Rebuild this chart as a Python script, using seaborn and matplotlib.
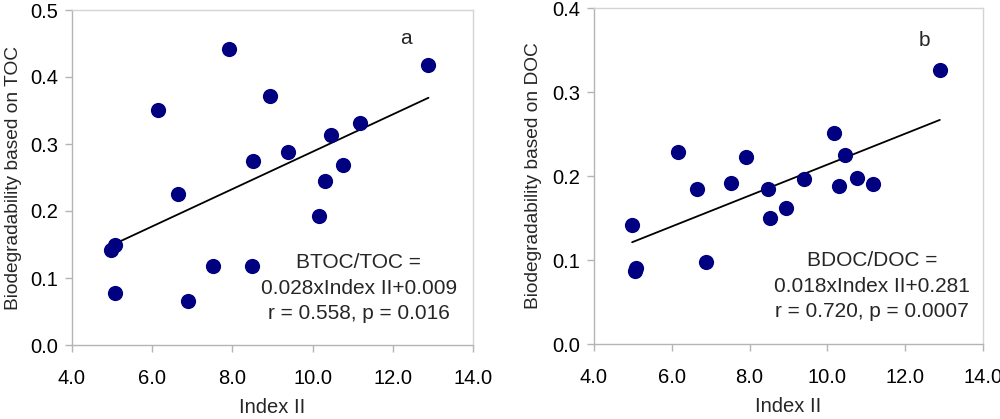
import numpy as np
import pandas as pd
import matplotlib
matplotlib.use("Agg")
import matplotlib.pyplot as plt
import seaborn as sns

# Data
index_ii = [4.98, 5.06, 5.08, 6.15, 6.64, 6.89, 7.51, 7.91, 8.48, 8.52,
            8.93, 9.39, 10.17, 10.31, 10.45, 10.77, 11.17, 12.89]
btoc_toc = [0.142, 0.077, 0.150, 0.350, 0.226, 0.066, 0.118, 0.442, 0.118, 0.274,
            0.372, 0.288, 0.193, 0.245, 0.314, 0.269, 0.331, 0.418]
bdoc_doc = [0.142, 0.087, 0.090, 0.228, 0.185, 0.098, 0.192, 0.223, 0.185, 0.150,
            0.162, 0.196, 0.251, 0.188, 0.225, 0.198, 0.190, 0.326]

x_ticks = [4.0, 6.0, 8.0, 10.0, 12.0, 14.0]
left_yticks = [0.0, 0.1, 0.2, 0.3, 0.4, 0.5]
right_yticks = [0.0, 0.1, 0.2, 0.3, 0.4]
left_ylabel = "Biodegradability based on TOC"
right_ylabel = "Biodegradability based on DOC"
xlabel = "Index II"
left_eq = "BTOC/TOC =\n0.028xIndex II+0.009\nr = 0.558, p = 0.016"
right_eq = "BDOC/DOC =\n0.018xIndex II+0.281\nr = 0.720, p = 0.0007"

sns.set_theme(style="white")
plt.rcParams['font.family'] = ['Liberation Sans', 'DejaVu Sans']

df = pd.DataFrame({"x": index_ii, "toc": btoc_toc, "doc": bdoc_doc})

fig = plt.figure(figsize=(10, 4.19), dpi=100)
W, H = 1000, 419
axL = fig.add_axes([72/W, 1-345/H, (473-72)/W, (345-10)/H])
axR = fig.add_axes([594/W, 1-344/H, (983-594)/W, (344-8)/H])

def style(ax, yticks, ylabel, ylab_x):
    ax.set_xlim(4.0, 14.0)
    ax.set_ylim(yticks[0], yticks[-1])
    ax.set_xticks(x_ticks)
    ax.set_xticklabels([f"{t:.1f}" for t in x_ticks])
    ax.set_yticks(yticks)
    ax.set_yticklabels([f"{t:.1f}" for t in yticks])
    for s in ["left", "bottom"]:
        ax.spines[s].set_color("#b4b4b4")
        ax.spines[s].set_linewidth(1.0)
    for s in ["top", "right"]:
        ax.spines[s].set_color("#d4d4d4")
        ax.spines[s].set_linewidth(1.0)
    ax.tick_params(axis="both", direction="out", length=5, width=1.0,
                   color="#b4b4b4", labelsize=14.5, labelcolor="black",
                   bottom=True, left=True, pad=5)
    ax.tick_params(axis="x", pad=12)
    ax.set_xlabel(xlabel, fontsize=14.5, va="center")
    ax.xaxis.set_label_coords(0.5, -0.187)
    ax.set_ylabel(ylabel, fontsize=13.8, va="center")
    ax.yaxis.set_label_coords(ylab_x, 0.5)

def panel(ax, ycol):
    sns.scatterplot(data=df, x="x", y=ycol, ax=ax, color="#000080", s=120,
                    edgecolor="#000080", linewidth=0, zorder=3)
    slope, icpt = np.polyfit(df["x"], df[ycol], 1)
    xs = np.array([df["x"].min(), df["x"].max()])
    sns.lineplot(x=xs, y=slope*xs + icpt, ax=ax, color="black", linewidth=1.3, zorder=2)

panel(axL, "toc")
panel(axR, "doc")
style(axL, left_yticks, left_ylabel, -0.147)
style(axR, right_yticks, right_ylabel, -0.155)

axL.text(12.32, 0.458, "a", fontsize=15, ha="center", va="center")
axL.text(11.15, 0.085, left_eq, fontsize=15, ha="center", va="center", linespacing=1.45)
axR.text(12.5, 0.361, "b", fontsize=15, ha="center", va="center")
axR.text(11.15, 0.069, right_eq, fontsize=15, ha="center", va="center", linespacing=1.45)

fig.savefig("out.png", dpi=100)
